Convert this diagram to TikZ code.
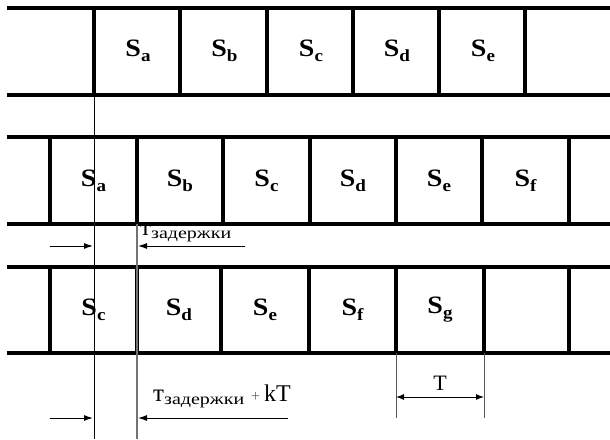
\documentclass[tikz,border=0pt]{standalone}
\usepackage{fontspec}
\usepackage{graphicx}
\setmainfont{Liberation Serif}
\usetikzlibrary{arrows.meta}

% slot label: bold S with a bold lowered index
\newcommand\slotname[1]{\scalebox{1.12}[1]{\fontsize{25}{25}\selectfont\bfseries S\raisebox{-5pt}{\fontsize{17}{17}\selectfont #1}}}
% delay symbol with its Cyrillic index
\newcommand\delaysym{\fontsize{25}{25}\selectfont т\raisebox{-3pt}{\scalebox{1.25}[1]{\fontsize{16}{16}\selectfont задержки}}}

\begin{document}
\begin{tikzpicture}[x=1pt,y=-1pt,
  rail/.style={line width=3.2pt},
  cellwall/.style={line width=3.2pt},
  guide/.style={line width=1pt},
  guidegray/.style={line width=1.6pt, black!55},
  dimline/.style={line width=1pt, black!65},
  dimarrow/.style={line width=1pt, -{Latex[length=9pt,width=6pt]}},
  dimboth/.style={line width=1pt, {Latex[length=8pt,width=6pt]}-{Latex[length=8pt,width=6pt]}},
  slot/.style={inner sep=0pt},
  note/.style={inner sep=0pt, anchor=base west}
]
\useasboundingbox (0,0) rectangle (610,439);

% ---- top row ----
\draw[rail] (7,8) -- (610,8);
\draw[rail] (7,95) -- (610,95);
\foreach \x in {94,180,267,353,439,525} \draw[cellwall] (\x,8) -- (\x,95);
\node[slot] (ta) at (138,51) {\slotname{a}};
\node[slot] (tb) at (224.5,51) {\slotname{b}};
\node[slot] (tc) at (311,51) {\slotname{c}};
\node[slot] (td) at (397,51) {\slotname{d}};
\node[slot] (te) at (483,51) {\slotname{e}};

% ---- middle row ----
\draw[rail] (7,137) -- (610,137);
\draw[rail] (7,224) -- (610,224);
\foreach \x in {50,137,223,310,396,482,569} \draw[cellwall] (\x,137) -- (\x,224);
\node[slot] (ma) at (93.5,180.5) {\slotname{a}};
\node[slot] (mb) at (180,180.5) {\slotname{b}};
\node[slot] (mc) at (266.5,180.5) {\slotname{c}};
\node[slot] (md) at (353,180.5) {\slotname{d}};
\node[slot] (me) at (439,180.5) {\slotname{e}};
\node[slot] (mf) at (525.5,180.5) {\slotname{f}};

% ---- bottom row ----
\draw[rail] (7,267) -- (610,267);
\draw[rail] (7,353) -- (610,353);
\foreach \x in {50,137,221,309,396,484,569} \draw[cellwall] (\x,267) -- (\x,353);
\node[slot] (bc) at (93.5,310) {\slotname{c}};
\node[slot] (bd) at (179,310) {\slotname{d}};
\node[slot] (be) at (265,310) {\slotname{e}};
\node[slot] (bf) at (352.5,310) {\slotname{f}};
\node[slot] (bg) at (440,310) {\slotname{g}};

% ---- reference verticals ----
\coordinate (refA top) at (94,95);
\coordinate (refA bot) at (94,439);
\coordinate (refB top) at (137,224);
\coordinate (refB bot) at (137,439);
\draw[guide] (refA top) -- (refA bot);
\draw[guidegray] (refB top) -- (refB bot);

% ---- delay between first two rows ----
\coordinate (d1 l) at (50,246);
\coordinate (d1 la) at (93,246);
\coordinate (d1 r) at (245,246);
\coordinate (d1 ra) at (138,246);
\draw[dimarrow] (d1 l) -- (d1 la);
\draw[dimarrow] (d1 r) -- (d1 ra);
\node[note] (delay1) at (140,235) {\delaysym};

% ---- delay with whole periods ----
\coordinate (d2 l) at (50,418);
\coordinate (d2 la) at (93,418);
\coordinate (d2 r) at (288,418);
\coordinate (d2 ra) at (138,418);
\draw[dimarrow] (d2 l) -- (d2 la);
\draw[dimarrow] (d2 r) -- (d2 ra);
\node[note] (delay2) at (153,401) {\delaysym\hspace{7pt}{\color{black!60}\fontsize{16}{16}\selectfont +}\hspace{4pt}\fontsize{24}{24}\selectfont kT};

% ---- period T ----
\coordinate (p1 top) at (396,353);
\coordinate (p1 bot) at (396,418);
\coordinate (p2 top) at (484,353);
\coordinate (p2 bot) at (484,418);
\draw[dimline] (p1 top) -- (p1 bot);
\draw[dimline] (p2 top) -- (p2 bot);
\coordinate (p1 mid) at (396,397);
\coordinate (p2 mid) at (484,397);
\draw[dimboth] (p1 mid) -- (p2 mid);
\node[inner sep=0pt, anchor=base] (period) at (440,390) {\fontsize{22}{22}\selectfont T};
\end{tikzpicture}
\end{document}
